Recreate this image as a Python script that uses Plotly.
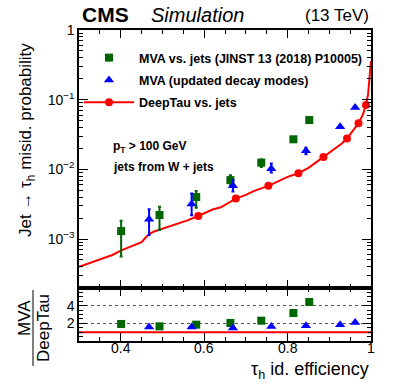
import plotly.graph_objects as go
from plotly.subplots import make_subplots

# DeepTau vs. jets: misid. probability vs tau_h id. efficiency
deeptau_eff = [0.30, 0.32, 0.34, 0.36, 0.38, 0.40, 0.42, 0.44, 0.45, 0.46, 0.47, 0.48,
               0.50, 0.52, 0.54, 0.56, 0.586, 0.60, 0.62, 0.64, 0.66, 0.676, 0.70, 0.72,
               0.754, 0.78, 0.80, 0.826, 0.85, 0.87, 0.886, 0.91, 0.93, 0.9425, 0.955,
               0.970, 0.98, 0.988, 0.993, 0.997, 1.0]
deeptau_prob = [4.0e-4, 4.4e-4, 4.8e-4, 5.3e-4, 5.9e-4, 6.8e-4, 7.6e-4, 8.6e-4, 9.0e-4,
                1.05e-3, 1.2e-3, 1.28e-3, 1.40e-3, 1.55e-3, 1.70e-3, 1.85e-3, 2.14e-3,
                2.35e-3, 2.65e-3, 2.85e-3, 3.3e-3, 3.8e-3, 4.3e-3, 4.9e-3, 5.8e-3, 6.9e-3,
                7.8e-3, 8.8e-3, 1.05e-2, 1.28e-2, 1.50e-2, 1.90e-2, 2.35e-2, 2.77e-2,
                3.5e-2, 4.6e-2, 6.0e-2, 8.4e-2, 1.2e-1, 2.0e-1, 3.6e-1]
# working points drawn as markers on the DeepTau curve
deeptau_wp_eff = [0.586, 0.676, 0.754, 0.826, 0.886, 0.9425, 0.970, 0.988]
deeptau_wp_prob = [2.14e-3, 3.8e-3, 5.8e-3, 8.8e-3, 1.50e-2, 2.77e-2, 4.6e-2, 8.4e-2]

# MVA vs. jets (JINST 13 (2018) P10005)
mva_eff = [0.401, 0.493, 0.581, 0.663, 0.737, 0.814, 0.852]
mva_prob = [1.30e-3, 2.21e-3, 4.0e-3, 7.0e-3, 1.25e-2, 2.7e-2, 5.1e-2]
mva_hi = [1.83e-3, 2.9e-3, 4.9e-3, 8.2e-3, 1.39e-2, 2.8e-2, 5.2e-2]
mva_lo = [5.6e-4, 1.35e-3, 2.8e-3, 5.8e-3, 1.08e-2, 2.6e-2, 5.0e-2]
mva_ratio = [1.93, 1.66, 1.85, 2.04, 2.30, 3.17, 4.42]

# MVA (updated decay modes)
mvanew_eff = [0.468, 0.570, 0.669, 0.761, 0.844, 0.926, 0.962]
mvanew_prob = [1.92e-3, 3.18e-3, 5.8e-3, 1.02e-2, 1.85e-2, 4.1e-2, 7.7e-2]
mvanew_hi = [2.67e-3, 4.5e-3, 7.0e-3, 1.21e-2, 2.05e-2, 4.2e-2, 7.8e-2]
mvanew_lo = [1.14e-3, 2.2e-3, 4.8e-3, 9.0e-3, 1.65e-2, 4.0e-2, 7.6e-2]
mvanew_ratio = [1.59, 1.59, 1.48, 1.63, 1.74, 1.85, 2.10]

ratio_ref_eff = [0.3, 1.0]
ratio_ref = [1.0, 1.0]

x_tickvals = [0.4, 0.6, 0.8, 1.0]
x_ticktext = ['0.4', '0.6', '0.8', '1']

GREEN = '#006600'
BLUE = '#0000ff'
RED = '#ff0000'
FONT = 'Liberation Sans'

W, H = 399, 385
L, R, T, B = 79, 28, 30, 44


def px(xp):
    # window pixel -> paper x
    return (xp - L) / (W - L - R)


def py(yp):
    # window pixel -> paper y
    return (H - B - yp) / (H - T - B)


fig = make_subplots(rows=2, cols=1, shared_xaxes=True, vertical_spacing=0,
                    row_heights=[258, 53])

# top panel
fig.add_trace(go.Scatter(x=deeptau_eff, y=deeptau_prob, mode='lines',
                         line=dict(color=RED, width=2), showlegend=False), row=1, col=1)
fig.add_trace(go.Scatter(x=deeptau_wp_eff, y=deeptau_wp_prob, mode='markers',
                         marker=dict(color=RED, size=8, symbol='circle'),
                         showlegend=False), row=1, col=1)
fig.add_trace(go.Scatter(
    x=mva_eff, y=mva_prob, mode='markers', name='MVA vs. jets (JINST 13 (2018) P10005)',
    marker=dict(color=GREEN, size=8, symbol='square'),
    error_y=dict(type='data', symmetric=False,
                 array=[h - v for h, v in zip(mva_hi, mva_prob)],
                 arrayminus=[v - lo for v, lo in zip(mva_prob, mva_lo)],
                 color=GREEN, thickness=2, width=1.5),
    legendgroup='a'), row=1, col=1)
fig.add_trace(go.Scatter(
    x=mvanew_eff, y=mvanew_prob, mode='markers', name='MVA (updated decay modes)',
    marker=dict(color=BLUE, size=9, symbol='triangle-up'),
    error_y=dict(type='data', symmetric=False,
                 array=[h - v for h, v in zip(mvanew_hi, mvanew_prob)],
                 arrayminus=[v - lo for v, lo in zip(mvanew_prob, mvanew_lo)],
                 color=BLUE, thickness=2, width=1.5),
    legendgroup='b'), row=1, col=1)
fig.add_trace(go.Scatter(x=[None], y=[None], mode='lines+markers', name='DeepTau vs. jets',
                         line=dict(color=RED, width=2),
                         marker=dict(color=RED, size=8, symbol='circle'),
                         legendgroup='c'), row=1, col=1)

# ratio panel
fig.add_trace(go.Scatter(x=ratio_ref_eff, y=ratio_ref, mode='lines',
                         line=dict(color=RED, width=2), showlegend=False), row=2, col=1)
fig.add_trace(go.Scatter(x=mva_eff, y=mva_ratio, mode='markers',
                         marker=dict(color=GREEN, size=8, symbol='square'),
                         showlegend=False), row=2, col=1)
fig.add_trace(go.Scatter(x=mvanew_eff, y=mvanew_ratio, mode='markers',
                         marker=dict(color=BLUE, size=9, symbol='triangle-up'),
                         showlegend=False), row=2, col=1)

axis_common = dict(showline=True, linecolor='black', linewidth=1.5, mirror='allticks',
                   ticks='inside', tickcolor='black', tickwidth=1, zeroline=False,
                   tickfont=dict(family=FONT, size=14, color='black'))
xminor = dict(dtick=0.05, tick0=0, ticks='inside', ticklen=4, tickcolor='black')

# x tick labels are drawn as annotations below (ROOT puts them closer to the frame)
fig.update_xaxes(range=[0.3, 1.0], tickvals=x_tickvals, ticklen=8, showgrid=False,
                 showticklabels=False, minor=xminor, **axis_common)

log_minor = [m * 10 ** e for e in range(-4, 0) for m in range(2, 10)]
fig.update_yaxes(type='log', range=[-3.703, 0], tickvals=[1e-3, 1e-2, 1e-1, 1],
                 ticktext=['10<sup>−3</sup>', '10<sup>−2</sup>', '10<sup>−1</sup>', '1'],
                 ticklen=9, showgrid=False,
                 minor=dict(tickvals=log_minor, ticks='inside', ticklen=4, tickcolor='black'),
                 row=1, col=1, **axis_common)
fig.update_yaxes(range=[0, 6], tickvals=[2, 4], ticklen=8,
                 showgrid=True, gridcolor='#555555', griddash='dot', gridwidth=1,
                 minor=dict(dtick=0.5, tick0=0, ticks='inside', ticklen=4, tickcolor='black'),
                 row=2, col=1, **axis_common)

ann = []
for v, t in zip(x_tickvals, x_ticktext):
    ann.append(dict(text=t, x=v, xref='x2', y=py(348), yref='paper', xanchor='center',
                    yanchor='middle', showarrow=False,
                    font=dict(family=FONT, size=14, color='black')))
ann.append(dict(text='<b>CMS</b>', x=px(80), y=py(14), xanchor='left', yanchor='middle',
                font=dict(family=FONT, size=21, color='black')))
ann.append(dict(text='<i>Simulation</i>', x=px(149), y=py(15), xanchor='left', yanchor='middle',
                font=dict(family=FONT, size=20, color='black')))
ann.append(dict(text='(13 TeV)', x=px(371), y=py(15), xanchor='right', yanchor='middle',
                font=dict(family=FONT, size=17, color='black')))
ann.append(dict(text='Jet → τ<sub>h</sub> misid. probability', x=px(27), y=py(140),
                textangle=-90, xanchor='center', yanchor='middle',
                font=dict(family=FONT, size=17, color='black')))
ann.append(dict(text='MVA', x=px(24), y=py(318), textangle=-90, xanchor='center',
                yanchor='middle', font=dict(family=FONT, size=17, color='black')))
ann.append(dict(text='DeepTau', x=px(43), y=py(328), textangle=-90, xanchor='center',
                yanchor='middle', font=dict(family=FONT, size=17, color='black')))
ann.append(dict(text='τ<sub>h</sub> id. efficiency', x=px(371), y=py(370), xanchor='right',
                yanchor='middle', font=dict(family=FONT, size=18, color='black')))
ann.append(dict(text='<b>p<sub>T</sub> > 100 GeV</b>', x=px(111), y=py(147), xanchor='left',
                yanchor='middle', font=dict(family=FONT, size=12, color='black')))
ann.append(dict(text='<b>jets from W + jets</b>', x=px(111), y=py(167), xanchor='left',
                yanchor='middle', font=dict(family=FONT, size=12, color='black')))
for a in ann:
    a.setdefault('xref', 'paper')
    a.setdefault('yref', 'paper')
    a['showarrow'] = False

fig.update_layout(
    width=W, height=H, margin=dict(l=L, r=R, t=T, b=B, autoexpand=False),
    paper_bgcolor='white', plot_bgcolor='white',
    annotations=ann,
    shapes=[dict(type='line', xref='paper', yref='paper', x0=px(33), x1=px(33),
                 y0=py(290), y1=py(366), line=dict(color='black', width=1))],
    legend=dict(x=px(79), y=py(43), xanchor='left', yanchor='top', itemwidth=50,
                bgcolor='rgba(0,0,0,0)', tracegroupgap=3,
                font=dict(family=FONT, size=12.5, color='black', weight='bold')),
    font=dict(family=FONT, color='black'),
)

# the page body has a default 8px margin; drop it so the figure fills the window
fig.write_html("out.html", config={'displayModeBar': False},
               post_script="document.body.style.margin = '0';")
